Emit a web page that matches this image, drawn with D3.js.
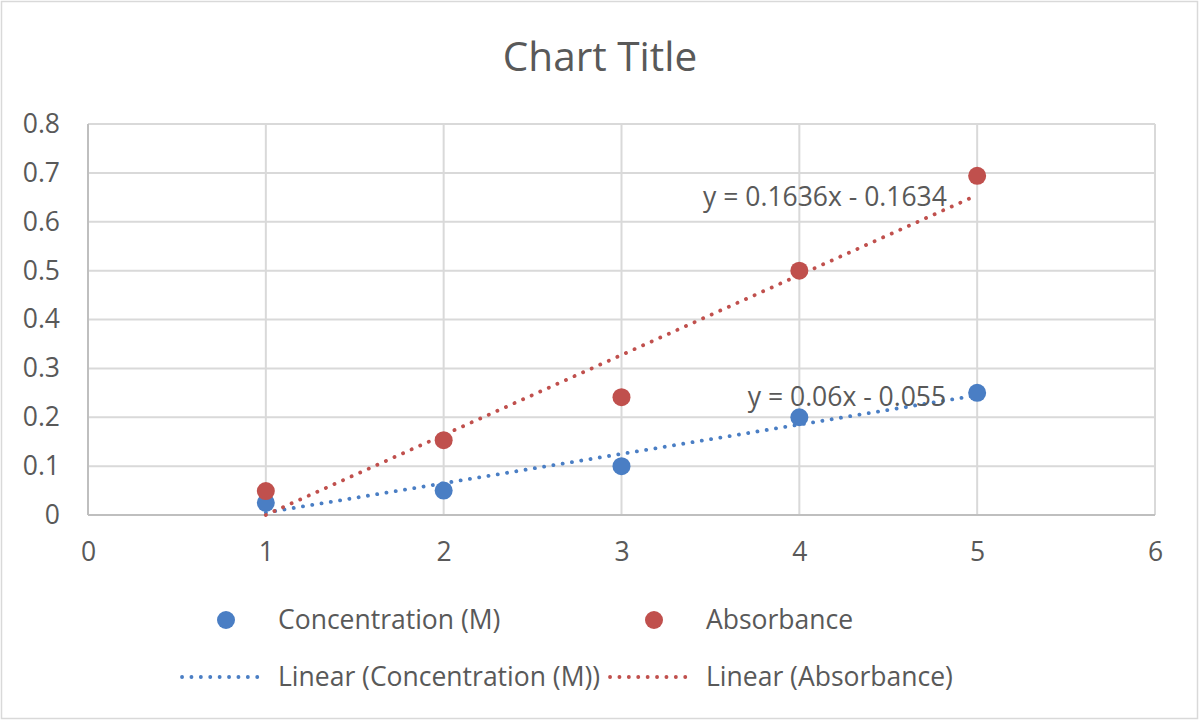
<!DOCTYPE html>
<html><head><meta charset="utf-8">
<script src="https://cdn.jsdelivr.net/npm/d3@7"></script>
<style>body{margin:0;background:#fff;} text{font-family:"Open Sans","Noto Sans",sans-serif;fill:#595959;}</style>
</head><body><svg id="c" width="1200" height="721"></svg>
<script>
const xValues = [1, 2, 3, 4, 5];
const concentration = [0.025, 0.05, 0.1, 0.2, 0.25];
const absorbance = [0.049, 0.153, 0.241, 0.5, 0.694];
const seriesNames = ["Concentration (M)", "Absorbance"];
const trendSlopes = [0.06, 0.1636];
const trendIntercepts = [-0.055, -0.1634];
const trendLabels = ["y = 0.06x - 0.055", "y = 0.1636x - 0.1634"];
const xTicks = [0, 1, 2, 3, 4, 5, 6];
const yTicks = [0, 0.1, 0.2, 0.3, 0.4, 0.5, 0.6, 0.7, 0.8];
const colors = ["#4a7ec4", "#c0504d"];
const FS = "26.5px";
const FF = '"Open Sans","Noto Sans",sans-serif';

const svg = d3.select("#c");
svg.append("rect").attr("x",1.5).attr("y",1.5).attr("width",1196).attr("height",717)
  .attr("fill","#fff").attr("stroke","#d9d9d9").attr("stroke-width",1.5);

const x = d3.scaleLinear().domain([0,6]).range([88,1155]);
const y = d3.scaleLinear().domain([0,0.8]).range([515,124]);

svg.append("text").attr("x",600).attr("y",71).attr("text-anchor","middle")
  .style("font-size","40.5px").text("Chart Title");

// gridlines
svg.append("g").selectAll("line").data(yTicks).join("line")
  .attr("x1",x(0)).attr("x2",x(6)).attr("y1",d=>y(d)).attr("y2",d=>y(d))
  .attr("stroke","#d9d9d9").attr("stroke-width",2);
svg.append("g").selectAll("line").data(xTicks).join("line")
  .attr("y1",y(0)).attr("y2",y(0.8)).attr("x1",d=>x(d)).attr("x2",d=>x(d))
  .attr("stroke","#d9d9d9").attr("stroke-width",2);
// axis lines
svg.append("line").attr("x1",x(0)).attr("x2",x(6)).attr("y1",y(0)).attr("y2",y(0)).attr("stroke","#bfbfbf").attr("stroke-width",2);
svg.append("line").attr("x1",x(0)).attr("x2",x(0)).attr("y1",y(0)).attr("y2",y(0.8)).attr("stroke","#bfbfbf").attr("stroke-width",2);

// axes via d3
const ax = svg.append("g").attr("transform",`translate(0,${y(0)})`)
  .call(d3.axisBottom(x).tickValues(xTicks).tickSize(0).tickPadding(27).tickFormat(d3.format("d")));
ax.select(".domain").remove();
ax.selectAll("text").style("font-size",FS).attr("fill","#595959").style("font-family",FF);
const ay = svg.append("g").attr("transform",`translate(${x(0)},0)`)
  .call(d3.axisLeft(y).tickValues(yTicks).tickSize(0).tickPadding(28).tickFormat(d=>d===0?"0":d3.format(".1f")(d)));
ay.select(".domain").remove();
ay.selectAll("text").style("font-size",FS).attr("fill","#595959").style("font-family",FF);

const dotted = sel => sel.attr("stroke-width",3.8).attr("stroke-linecap","round").attr("stroke-dasharray","0.1 9.3").attr("fill","none");

// trendlines
[0,1].forEach(i=>{
  const pts = [1,5].map(v=>[x(v), y(trendSlopes[i]*v+trendIntercepts[i])]);
  svg.append("path").attr("d", d3.line()(pts)).attr("stroke",colors[i]).call(dotted);
});

// points
[concentration, absorbance].forEach((vals,i)=>{
  svg.append("g").selectAll("circle").data(vals).join("circle")
    .attr("cx",(d,j)=>x(xValues[j])).attr("cy",d=>y(d)).attr("r",9).attr("fill",colors[i]);
});

// equation labels
svg.append("text").attr("x",847).attr("y",406).attr("text-anchor","middle").style("font-size",FS).text(trendLabels[0]);
svg.append("text").attr("x",825).attr("y",206).attr("text-anchor","middle").style("font-size",FS).text(trendLabels[1]);

// legend
const legX = [226, 654], legTextX = [278, 706];
[0,1].forEach(i=>{
  svg.append("circle").attr("cx",legX[i]).attr("cy",620).attr("r",9).attr("fill",colors[i]);
  svg.append("text").attr("x",legTextX[i]).attr("y",629).style("font-size",FS).text(seriesNames[i]);
  svg.append("path").attr("d",d3.line()([[legTextX[i]-96,677],[legTextX[i]-12,677]])).attr("stroke",colors[i]).call(dotted);
  svg.append("text").attr("x",legTextX[i]).attr("y",686).style("font-size",FS).text(`Linear (${seriesNames[i]})`);
});
</script></body></html>
